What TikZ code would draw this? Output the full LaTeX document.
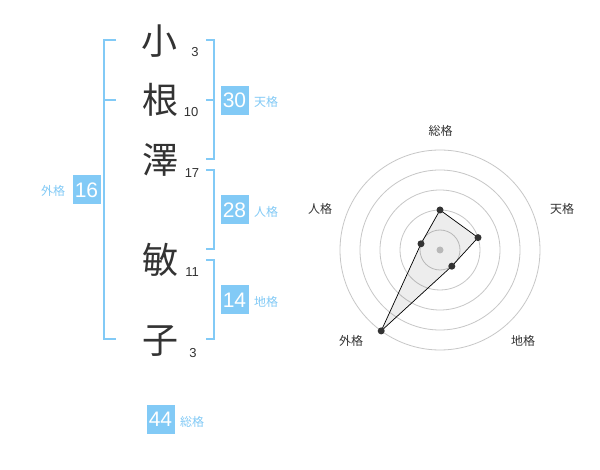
\documentclass[tikz,border=0pt]{standalone}
\usepackage{fontspec}
\setmainfont{Noto Sans CJK JP}
\newfontfamily\numfont{Liberation Sans}
\definecolor{kblue}{HTML}{82CAF6}
\definecolor{ktext}{HTML}{333333}
\begin{document}
\begin{tikzpicture}[x=1pt,y=-1pt,
 kanji/.style={font=\fontsize{36}{36}\selectfont, text=ktext, inner sep=0},
 strokes/.style={font=\numfont\fontsize{13}{13}\selectfont, text=ktext, inner sep=0},
 valbox/.style={fill=kblue, text=white, minimum width=28pt, minimum height=29pt, inner sep=0, font=\numfont\fontsize{21}{21}\selectfont},
 kaku/.style={text=kblue, font=\fontsize{12}{12}\selectfont, inner sep=0},
 bracket/.style={draw=kblue, line width=2pt},
 ring/.style={draw=black!22, line width=0.8pt},
 axislabel/.style={text=ktext, font=\fontsize{12}{12}\selectfont, inner sep=0},
 dot/.style={circle, fill=ktext, inner sep=0, minimum size=7pt}
]
\useasboundingbox[fill=white] (0,0) rectangle (600,470);

% name characters
\node[kanji] (c1) at (159,41) {小};
\node[kanji] (c2) at (160,100) {根};
\node[kanji] (c3) at (160,160) {澤};
\node[kanji] (c4) at (160,260) {敏};
\node[kanji] (c5) at (160,341) {子};

\node[strokes] (s1) at (195,52) {3};
\node[strokes] (s2) at (191,112) {10};
\node[strokes] (s3) at (192,173) {17};
\node[strokes] (s4) at (192,272) {11};
\node[strokes] (s5) at (193,353) {3};

% brackets
\draw[bracket] (116,40) -- (104,40) -- (104,339) -- (116,339);
\draw[bracket] (104,100) -- (116,100);
\draw[bracket] (206,40) -- (214,40) -- (214,159) -- (206,159);
\draw[bracket] (206,100) -- (214,100);
\draw[bracket] (206,170) -- (214,170) -- (214,249) -- (206,249);
\draw[bracket] (206,260) -- (214,260) -- (214,339) -- (206,339);

% value boxes
\node[valbox] (gai) at (86.5,190) {16};
\node[kaku] (gail) at (53,191) {外格};
\node[valbox] (ten) at (234.5,100.5) {30};
\node[kaku] (tenl) at (266,102) {天格};
\node[valbox] (jin) at (234.5,210) {28};
\node[kaku] (jinl) at (266,212) {人格};
\node[valbox] (chi) at (234.5,300) {14};
\node[kaku] (chil) at (266,302) {地格};
\node[valbox] (sou) at (160.5,419) {44};
\node[kaku] (soul) at (192,422) {総格};

% radar chart
\coordinate (ctr) at (440,250);
\foreach \r in {20,40,60,80,100} \draw[ring] (ctr) circle[radius=\r pt];
\fill[black!22] (ctr) circle[radius=3.5pt];
\coordinate (pS) at (440,210);
\coordinate (pT) at (478.0,237.6);
\coordinate (pC) at (451.8,266.2);
\coordinate (pG) at (381.2,330.9);
\coordinate (pJ) at (421.0,243.8);
\draw[fill=black, fill opacity=0.07, draw opacity=1, line width=0.7pt] (pS) -- (pT) -- (pC) -- (pG) -- (pJ) -- cycle;
\foreach \p in {pS,pT,pC,pG,pJ} \node[dot] at (\p) {};

\node[axislabel] (aS) at (440.5,131) {総格};
\node[axislabel] (aT) at (562,209) {天格};
\node[axislabel] (aC) at (523,341) {地格};
\node[axislabel] (aG) at (351,341) {外格};
\node[axislabel] (aJ) at (320,209) {人格};
\end{tikzpicture}
\end{document}
